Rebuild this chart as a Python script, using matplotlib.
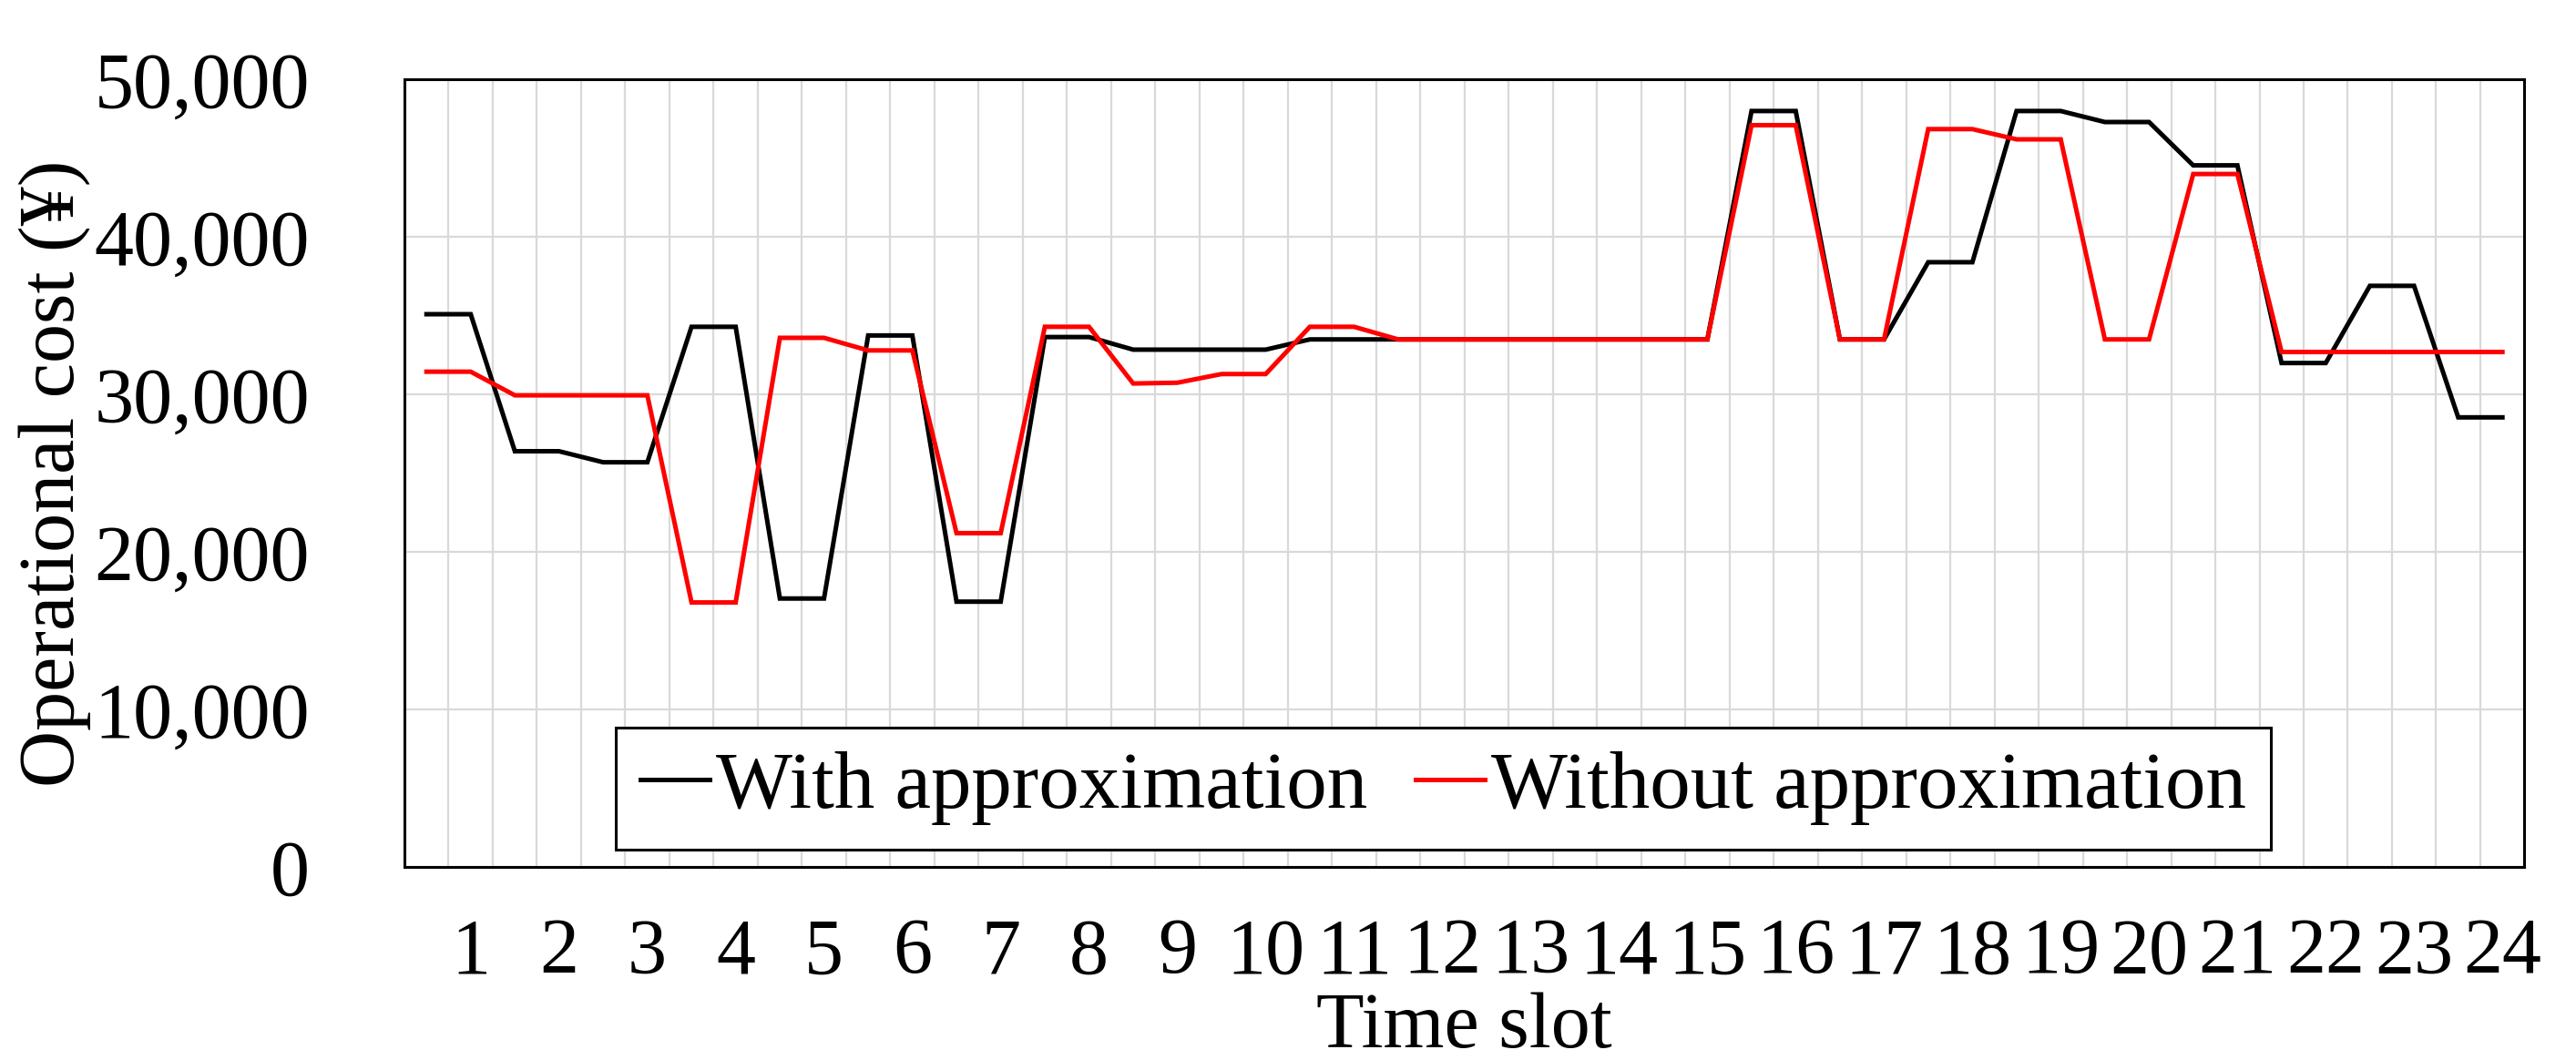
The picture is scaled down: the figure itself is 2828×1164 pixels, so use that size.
import numpy as np
import matplotlib
matplotlib.use('Agg')
import matplotlib.pyplot as plt

# two points per time slot (start and end of each slot)
with_approx = [35100, 35100, 26400, 26400, 25700, 25700, 34300, 34300,
               17050, 17050, 33750, 33750, 16850, 16850, 33650, 33650,
               32850, 32850, 32850, 32850, 33500, 33500, 33500, 33500,
               33500, 33500, 33500, 33500, 33500, 33500, 48000, 48000,
               33500, 33500, 38400, 38400, 48000, 48000, 47300, 47300,
               44550, 44550, 32000, 32000, 36900, 36900, 28550, 28550]
without_approx = [31450, 31450, 29950, 29950, 29950, 29950, 16800, 16800,
                  33600, 33600, 32800, 32800, 21200, 21200, 34300, 34300,
                  30700, 30750, 31300, 31300, 34300, 34300, 33500, 33500,
                  33500, 33500, 33500, 33500, 33500, 33500, 47100, 47100,
                  33500, 33500, 46850, 46850, 46200, 46200, 33500, 33500,
                  44000, 44000, 32700, 32700, 32700, 32700, 32700, 32700]
slot_labels = [str(i) for i in range(1, 25)]
y_ticks = [0, 10000, 20000, 30000, 40000, 50000]

plt.rcParams['font.family'] = ['Liberation Serif', 'DejaVu Serif']
fs = 62

fig = plt.figure(figsize=(28.28, 11.64), dpi=100)
ax = fig.add_axes([0.157, 0.182, 0.823, 0.743])

x = np.arange(len(with_approx))
ax.plot(x, with_approx, color='black', lw=3.6, label='With approximation',
        solid_joinstyle='miter', zorder=3)
ax.plot(x, without_approx, color='#ff0000', lw=3.6, label='Without approximation',
        solid_joinstyle='miter', zorder=3)

ax.set_xlim(-0.5, len(x) - 0.5)
ax.set_ylim(0, 50000)
ax.set_yticks(y_ticks)
ax.set_yticklabels(['{:,}'.format(v) for v in y_ticks])
ax.set_xticks(x[1::2])
ax.set_xticklabels(slot_labels)
ax.set_xticks(np.arange(0.5, len(x) - 1, 1), minor=True)

ax.grid(axis='y', which='major', color='#d9d9d9', lw=1.6)
ax.grid(axis='x', which='minor', color='#d9d9d9', lw=1.6)
ax.set_axisbelow(True)
ax.tick_params(axis='both', which='both', length=0, labelsize=fs)
ax.tick_params(axis='y', pad=75)
ax.tick_params(axis='x', pad=40)
for s in ax.spines.values():
    s.set_linewidth(2.2)

ax.set_xlabel('Time slot', fontsize=fs, labelpad=2)
ax.set_ylabel('Operational cost (¥)', fontsize=fs, labelpad=2)

leg = ax.legend(loc='lower center', bbox_to_anchor=(0.49, 0.022), ncol=2,
                fontsize=64, frameon=True, fancybox=False, framealpha=1,
                edgecolor='black', borderaxespad=0, handlelength=0.85,
                handletextpad=0.08, columnspacing=0.6, borderpad=0.3)
leg.get_frame().set_linewidth(2.2)

plt.savefig('out.png', dpi=100)
